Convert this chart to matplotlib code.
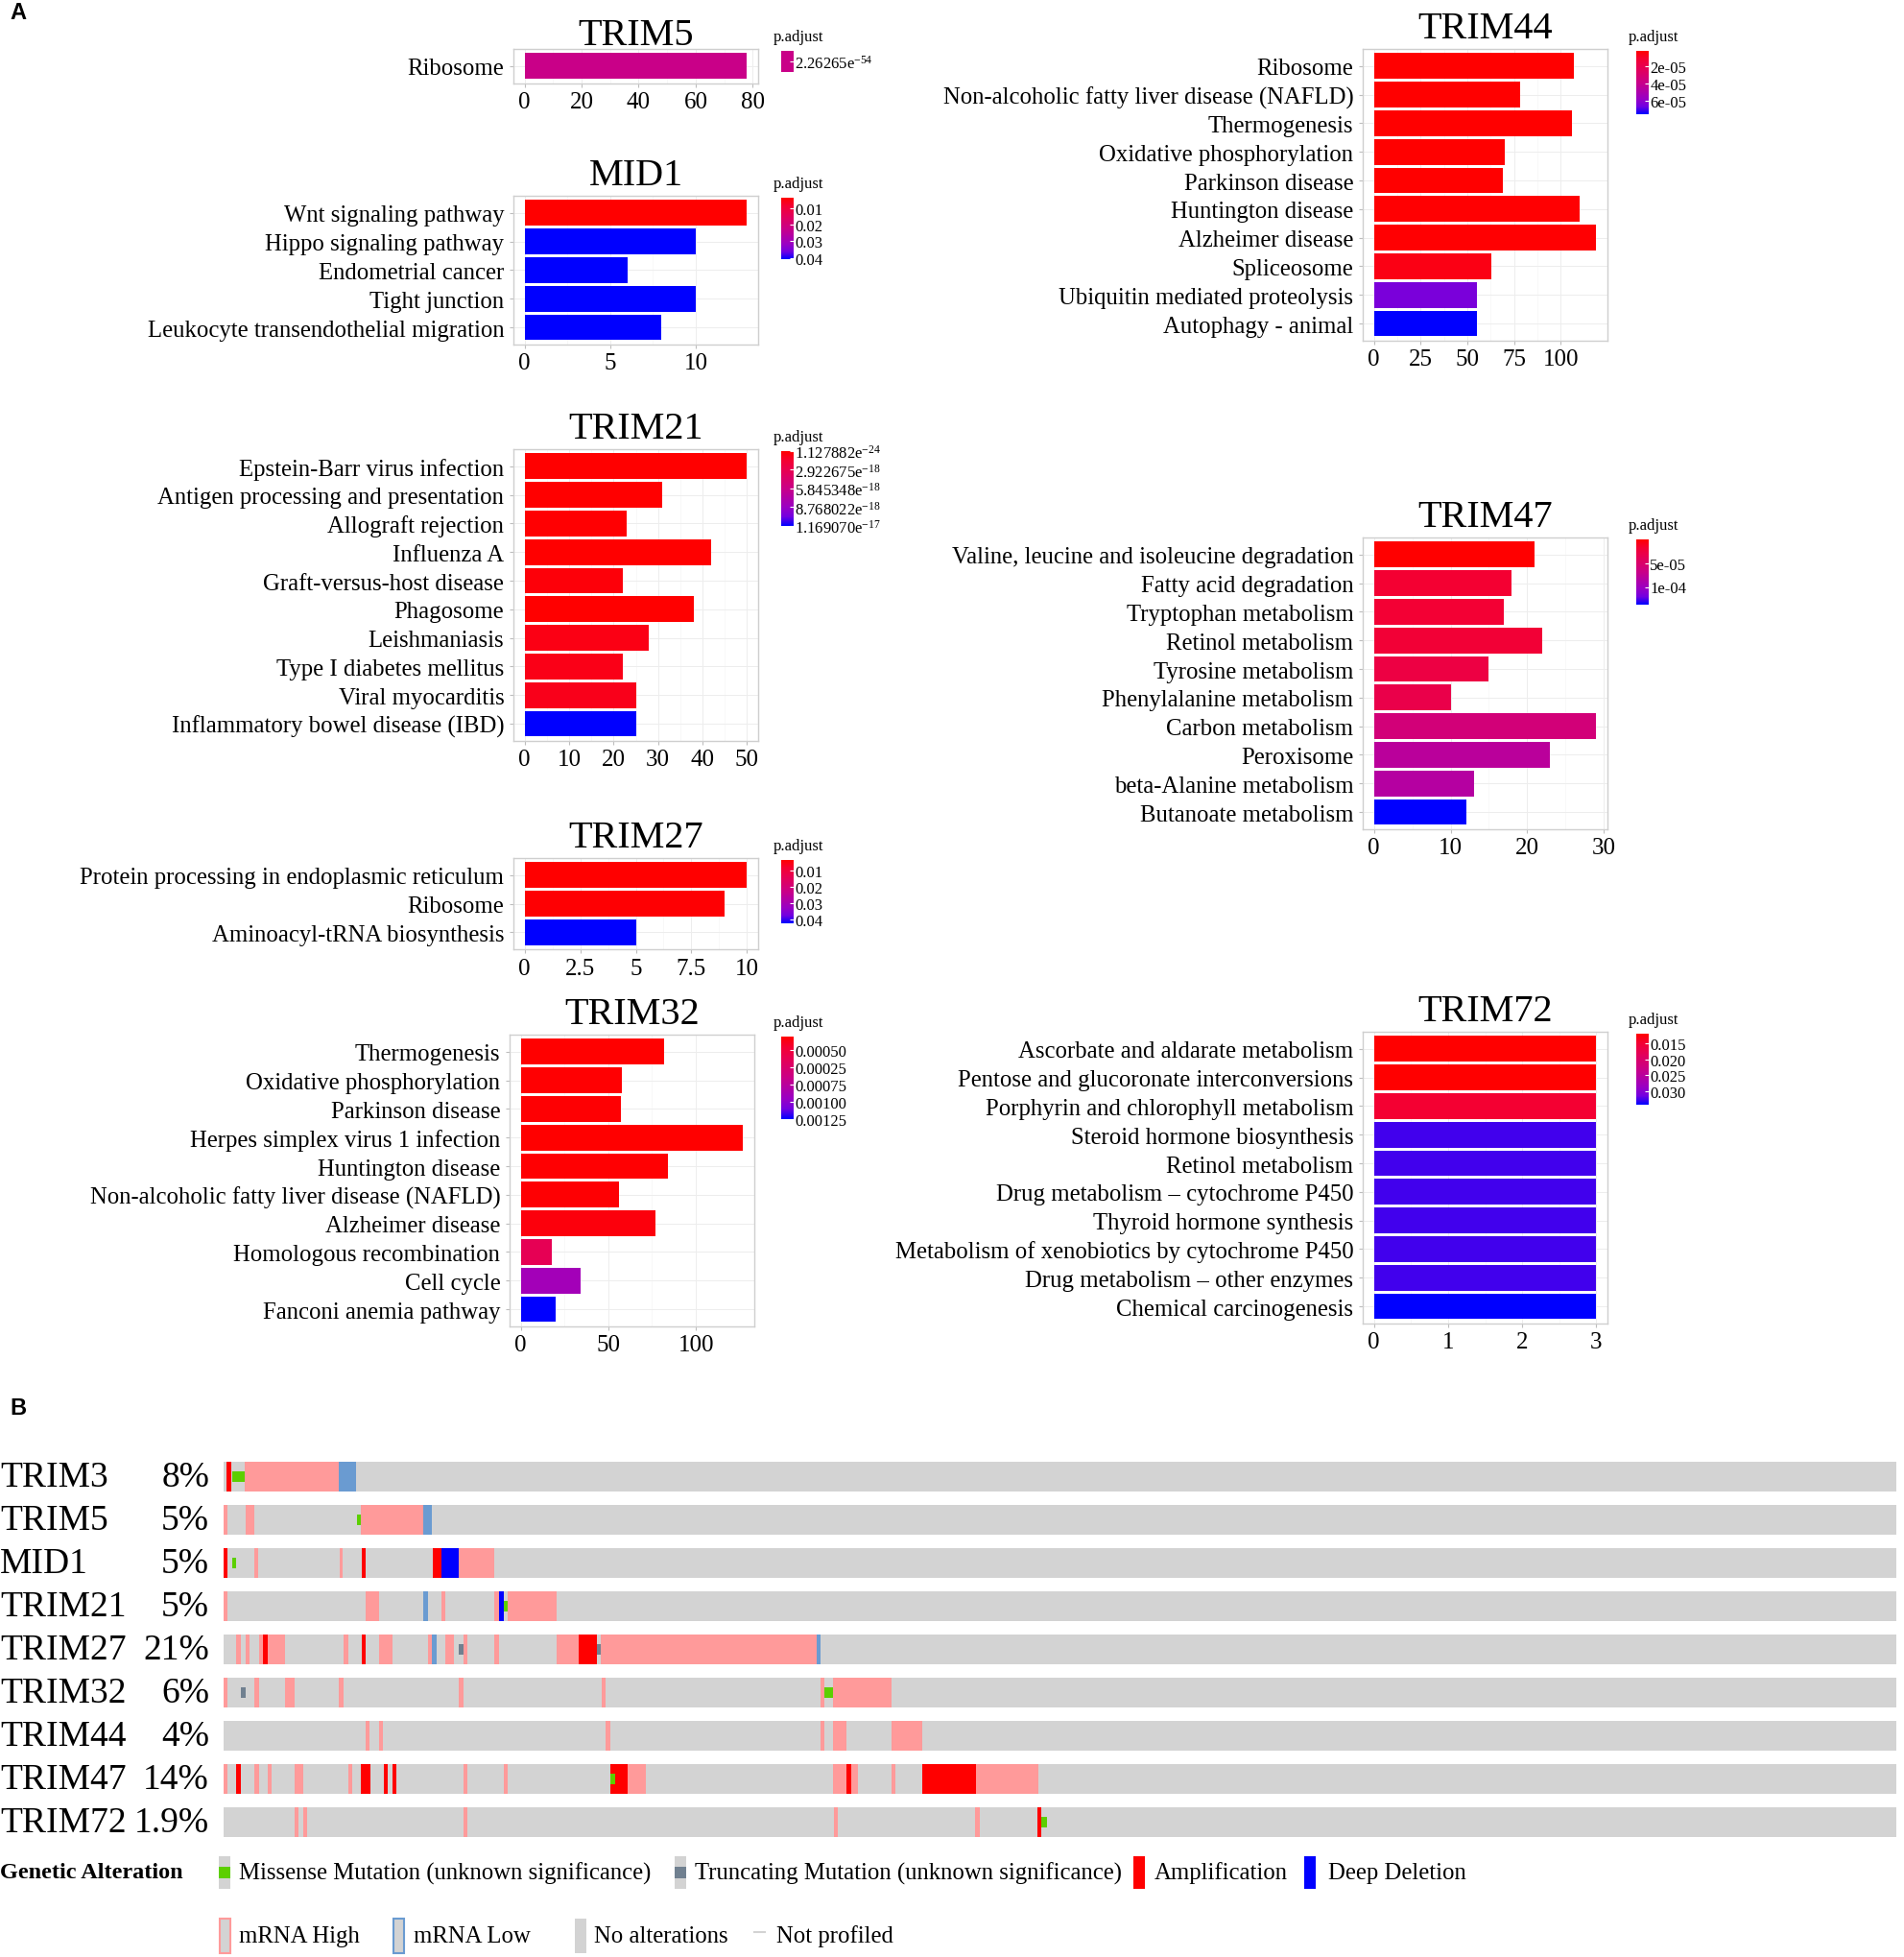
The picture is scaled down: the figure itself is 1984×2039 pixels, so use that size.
import numpy as np
import matplotlib
matplotlib.use('Agg')
import matplotlib.pyplot as plt
from matplotlib.colors import LinearSegmentedColormap, ListedColormap, Normalize
from matplotlib.cm import ScalarMappable
from matplotlib.patches import Rectangle
import matplotlib.transforms as mtransforms

plt.rcParams['font.family'] = ['Liberation Serif', 'DejaVu Serif']
plt.rcParams['mathtext.fontset'] = 'custom'
plt.rcParams['mathtext.rm'] = 'Liberation Serif'
plt.rcParams['mathtext.it'] = 'Liberation Serif:italic'
plt.rcParams['mathtext.bf'] = 'Liberation Serif:bold'

# ---------------- panel A: KEGG enrichment ----------------
trim5_terms = ['Ribosome']
trim5_counts = [78]
trim5_padj = [2.26265e-54]

mid1_terms = ['Wnt signaling pathway', 'Hippo signaling pathway', 'Endometrial cancer',
              'Tight junction', 'Leukocyte transendothelial migration']
mid1_counts = [13, 10, 6, 10, 8]
mid1_padj = [0.0038, 0.0408, 0.0408, 0.0408, 0.0408]

trim21_terms = ['Epstein-Barr virus infection', 'Antigen processing and presentation',
                'Allograft rejection', 'Influenza A', 'Graft-versus-host disease', 'Phagosome',
                'Leishmaniasis', 'Type I diabetes mellitus', 'Viral myocarditis',
                'Inflammatory bowel disease (IBD)']
trim21_counts = [50, 31, 23, 42, 22, 38, 28, 22, 25, 25]
trim21_padj = [1.127882e-24, 2e-21, 5e-20, 1e-22, 3e-19, 2e-20, 6e-19, 7e-19, 8e-19, 1.169070e-17]

trim27_terms = ['Protein processing in endoplasmic reticulum', 'Ribosome',
                'Aminoacyl-tRNA biosynthesis']
trim27_counts = [10, 9, 5]
trim27_padj = [0.0038, 0.0042, 0.0423]

trim32_terms = ['Thermogenesis', 'Oxidative phosphorylation', 'Parkinson disease',
                'Herpes simplex virus 1 infection', 'Huntington disease',
                'Non-alcoholic fatty liver disease (NAFLD)', 'Alzheimer disease',
                'Homologous recombination', 'Cell cycle', 'Fanconi anemia pathway']
trim32_counts = [82, 58, 57, 127, 84, 56, 77, 18, 34, 20]
trim32_padj = [5e-05, 5.5e-05, 6e-05, 5e-05, 5.5e-05, 6e-05, 9e-05, 3.7e-04, 8.9e-04, 1.25e-03]

trim44_terms = ['Ribosome', 'Non-alcoholic fatty liver disease (NAFLD)', 'Thermogenesis',
                'Oxidative phosphorylation', 'Parkinson disease', 'Huntington disease',
                'Alzheimer disease', 'Spliceosome', 'Ubiquitin mediated proteolysis',
                'Autophagy - animal']
trim44_counts = [107, 78, 106, 70, 69, 110, 119, 63, 55, 55]
trim44_padj = [2.2e-06, 2.2e-06, 2.3e-06, 2.4e-06, 2.4e-06, 2.5e-06, 2.5e-06, 6e-06, 6.5e-05, 7.6e-05]

trim47_terms = ['Valine, leucine and isoleucine degradation', 'Fatty acid degradation',
                'Tryptophan metabolism', 'Retinol metabolism', 'Tyrosine metabolism',
                'Phenylalanine metabolism', 'Carbon metabolism', 'Peroxisome',
                'beta-Alanine metabolism', 'Butanoate metabolism']
trim47_counts = [21, 18, 17, 22, 15, 10, 29, 23, 13, 12]
trim47_padj = [1e-06, 1.9e-05, 2.0e-05, 2.1e-05, 2.8e-05, 3.2e-05, 5.9e-05, 8.0e-05, 8.3e-05, 1.37e-04]

trim72_terms = ['Ascorbate and aldarate metabolism', 'Pentose and glucoronate interconversions',
                'Porphyrin and chlorophyll metabolism', 'Steroid hormone biosynthesis',
                'Retinol metabolism', 'Drug metabolism \u2013 cytochrome P450',
                'Thyroid hormone synthesis', 'Metabolism of xenobiotics by cytochrome P450',
                'Drug metabolism \u2013 other enzymes', 'Chemical carcinogenesis']
trim72_counts = [3, 3, 3, 3, 3, 3, 3, 3, 3, 3]
trim72_padj = [0.0119, 0.0119, 0.0148, 0.0326, 0.0326, 0.0326, 0.0326, 0.0326, 0.0326, 0.0342]

# x axis ticks and colour bar ticks for each panel
trim5_xticks = [0, 20, 40, 60, 80]
mid1_xticks = [0, 5, 10]
trim21_xticks = [0, 10, 20, 30, 40, 50]
trim27_xticks = [0, 2.5, 5, 7.5, 10]
trim32_xticks = [0, 50, 100]
trim44_xticks = [0, 25, 50, 75, 100]
trim47_xticks = [0, 10, 20, 30]
trim72_xticks = [0, 1, 2, 3]

trim5_cb_ticks = [2.26265e-54]
trim5_cb_labels = [r'2.26265e$^{-54}$']
mid1_cb_ticks = [0.01, 0.02, 0.03, 0.04]
mid1_cb_labels = ['0.01', '0.02', '0.03', '0.04']
trim21_cb_ticks = [1.127882e-24, 2.922675e-18, 5.845348e-18, 8.768022e-18, 1.169070e-17]
trim21_cb_labels = [r'1.127882e$^{-24}$', r'2.922675e$^{-18}$', r'5.845348e$^{-18}$',
                    r'8.768022e$^{-18}$', r'1.169070e$^{-17}$']
trim27_cb_ticks = [0.01, 0.02, 0.03, 0.04]
trim27_cb_labels = ['0.01', '0.02', '0.03', '0.04']
trim32_cb_ticks = [0.00025, 0.0005, 0.00075, 0.001, 0.00125]
trim32_cb_labels = ['0.00050', '0.00025', '0.00075', '0.00100', '0.00125']
trim44_cb_ticks = [2e-05, 4e-05, 6e-05]
trim44_cb_labels = ['2e-05', '4e-05', '6e-05']
trim47_cb_ticks = [5e-05, 1e-04]
trim47_cb_labels = ['5e-05', '1e-04']
trim72_cb_ticks = [0.015, 0.020, 0.025, 0.030]
trim72_cb_labels = ['0.015', '0.020', '0.025', '0.030']

# ---------------- panel B: oncoprint ----------------
onco_genes = ['TRIM3', 'TRIM5', 'MID1', 'TRIM21', 'TRIM27', 'TRIM32', 'TRIM44', 'TRIM47', 'TRIM72']
onco_pct = ['8%', '5%', '5%', '5%', '21%', '6%', '4%', '14%', '1.9%']
n_columns = 1743

# altered columns as (first, last) ranges
mrna_high = {
    'TRIM3': [(22, 120)],
    'TRIM5': [(0, 4), (23, 32), (143, 208)],
    'MID1': [(32, 36), (121, 124), (245, 282)],
    'TRIM21': [(0, 4), (148, 162), (227, 231), (282, 287), (296, 347)],
    'TRIM27': [(13, 18), (23, 27), (37, 64), (125, 130), (162, 176), (213, 217), (231, 240),
               (250, 254), (282, 287), (347, 370), (393, 618)],
    'TRIM32': [(0, 4), (32, 37), (64, 74), (120, 125), (245, 250), (394, 398), (622, 626), (635, 696)],
    'TRIM44': [(148, 152), (162, 166), (398, 403), (622, 626), (635, 649), (696, 728)],
    'TRIM47': [(0, 4), (32, 37), (46, 50), (74, 83), (130, 134), (250, 254), (292, 296), (421, 440),
               (635, 661), (696, 700), (784, 849)],
    'TRIM72': [(74, 78), (83, 87), (250, 254), (636, 640), (783, 788)],
}
mrna_low = {
    'TRIM3': [(120, 138)],
    'TRIM5': [(208, 217)],
    'TRIM21': [(208, 213)],
    'TRIM27': [(217, 222), (618, 622)],
}
amplification = {
    'TRIM3': [(3, 8)],
    'MID1': [(0, 4), (144, 148), (218, 227)],
    'TRIM27': [(41, 46), (144, 148), (370, 389)],
    'TRIM47': [(13, 18), (143, 153), (167, 171), (176, 180), (403, 421), (649, 654), (728, 784)],
    'TRIM72': [(848, 852)],
}
deep_deletion = {
    'MID1': [(227, 245)],
    'TRIM21': [(287, 292)],
}
missense = {
    'TRIM3': [(9, 22)],
    'TRIM5': [(139, 143)],
    'MID1': [(9, 13)],
    'TRIM21': [(292, 296)],
    'TRIM32': [(626, 635)],
    'TRIM47': [(403, 408)],
    'TRIM72': [(852, 858)],
}
truncating = {
    'TRIM27': [(245, 250), (389, 393)],
    'TRIM32': [(18, 23)],
}

legend_row1 = ['Missense Mutation (unknown significance)', 'Truncating Mutation (unknown significance)',
               'Amplification', 'Deep Deletion']
legend_row2 = ['mRNA High', 'mRNA Low', 'No alterations', 'Not profiled']

# ---------------- styles ----------------
W, H = 1984, 2040
enrich_cmap = LinearSegmentedColormap.from_list(
    'padj', [(0.0, '#FF0000'), (0.125, '#F40031'), (0.25, '#E80050'), (0.5, '#C90088'),
             (0.75, '#9A00C3'), (0.875, '#7300E0'), (1.0, '#0000FF')])
c_gray = '#D3D3D3'
c_high = '#FF9A9A'
c_low = '#6A9BD1'
c_amp = '#FF0000'
c_del = '#0000FF'
c_mis = '#5CCF00'
c_trunc = '#708090'

label_fs = 17.8
tick_fs = 18
title_fs = 29
cb_fs = 12

fig = plt.figure(figsize=(W / 100, H / 100), dpi=100)


def px_box(left, top, width, height):
    return [left / W, 1 - (top + height) / H, width / W, height / H]


unit_px = 29.8


def enrich_panel(left, top, terms, counts, padj, xticks, cb_ticks, cb_labels, title,
                 cb_left, cb_height, title_gap=12, xticklabels=None):
    n = len(terms)
    height = (n + 0.2) * unit_px
    ax = fig.add_axes(px_box(left, top, 255, height))
    vmin, vmax = min(padj), max(padj)
    if vmin == vmax:
        cmap = ListedColormap([enrich_cmap(0.5)])
        norm = Normalize(vmin * 0.5, vmax * 1.5)
    else:
        cmap = enrich_cmap
        norm = Normalize(vmin, vmax)
    y = np.arange(n)
    ax.barh(y, counts, height=0.9, color=cmap(norm(np.array(padj))), edgecolor='none', zorder=2)
    top_val = max(counts)
    ax.set_xlim(-0.05 * top_val, 1.05 * top_val)
    ax.set_ylim(n - 0.4, -0.6)
    ax.set_yticks(y, terms)
    ax.set_xticks(xticks, xticklabels if xticklabels else [f'{t:g}' for t in xticks])
    mids = [(a + b) / 2 for a, b in zip(xticks[:-1], xticks[1:])]
    ax.set_xticks(mids, minor=True)
    ax.tick_params(axis='x', which='minor', length=0)
    ax.grid(True, which='major', color='#EDEDED', lw=0.7, zorder=0)
    ax.grid(True, which='minor', axis='x', color='#F5F5F5', lw=0.5, zorder=0)
    ax.set_axisbelow(True)
    for s in ax.spines.values():
        s.set_color('#CFCFCF')
        s.set_linewidth(1.0)
    ax.tick_params(axis='both', which='major', length=3, color='#BDBDBD', width=0.8)
    ax.tick_params(axis='y', labelsize=label_fs, pad=4)
    ax.tick_params(axis='x', labelsize=tick_fs, pad=3)
    ax.annotate(title, xy=(0.5, 1), xycoords='axes fraction', xytext=(0, title_gap),
                textcoords='offset pixels', ha='center', va='baseline', fontsize=title_fs)

    cax = fig.add_axes(px_box(cb_left, top + 2, 13, cb_height))
    cb = fig.colorbar(ScalarMappable(norm=norm, cmap=cmap), cax=cax)
    cax.invert_yaxis()
    cb.set_ticks(cb_ticks, labels=cb_labels)
    cb.outline.set_visible(False)
    cax.tick_params(length=3, color='white', width=0.8, direction='in', labelsize=cb_fs, pad=1)
    cax.annotate('p.adjust', xy=(0, 1), xycoords='axes fraction', xytext=(-8, 7),
                 textcoords='offset pixels', ha='left', va='bottom', fontsize=cb_fs)
    return ax


left_col, right_col = 535, 1420
cb_left_col, cb_right_col = 814, 1705

enrich_panel(left_col, 52, trim5_terms, trim5_counts, trim5_padj, trim5_xticks,
             trim5_cb_ticks, trim5_cb_labels, 'TRIM5', cb_left_col, 22, title_gap=5)
enrich_panel(left_col, 205, mid1_terms, mid1_counts, mid1_padj, mid1_xticks,
             mid1_cb_ticks, mid1_cb_labels, 'MID1', cb_left_col, 64)
enrich_panel(left_col, 469, trim21_terms, trim21_counts, trim21_padj, trim21_xticks,
             trim21_cb_ticks, trim21_cb_labels, 'TRIM21', cb_left_col, 78)
enrich_panel(left_col, 895, trim27_terms, trim27_counts, trim27_padj, trim27_xticks,
             trim27_cb_ticks, trim27_cb_labels, 'TRIM27', cb_left_col, 66)
enrich_panel(531, 1079, trim32_terms, trim32_counts, trim32_padj, trim32_xticks,
             trim32_cb_ticks, trim32_cb_labels, 'TRIM32', cb_left_col, 86)
enrich_panel(right_col, 52, trim44_terms, trim44_counts, trim44_padj, trim44_xticks,
             trim44_cb_ticks, trim44_cb_labels, 'TRIM44', cb_right_col, 66)
enrich_panel(right_col, 561, trim47_terms, trim47_counts, trim47_padj, trim47_xticks,
             trim47_cb_ticks, trim47_cb_labels, 'TRIM47', cb_right_col, 68)
enrich_panel(right_col, 1076, trim72_terms, trim72_counts, trim72_padj, trim72_xticks,
             trim72_cb_ticks, trim72_cb_labels, 'TRIM72', cb_right_col, 74)

# ---------------- oncoprint ----------------
ax = fig.add_axes(px_box(233, 1517, 1743, 405))
rows = np.arange(len(onco_genes))
row_h = 0.69
ax.barh(rows, [n_columns] * len(rows), height=row_h, color=c_gray, edgecolor='none')


def draw_ranges(table, color, h):
    for i, g in enumerate(onco_genes):
        for a, b in table.get(g, []):
            ax.barh(i, b - a, left=a, height=h, color=color, edgecolor='none', zorder=2)


draw_ranges(mrna_high, c_high, row_h)
draw_ranges(mrna_low, c_low, row_h)
draw_ranges(amplification, c_amp, row_h)
draw_ranges(deep_deletion, c_del, row_h)
draw_ranges(missense, c_mis, 0.25)
draw_ranges(truncating, c_trunc, 0.25)
ax.set_xlim(0, n_columns)
ax.set_ylim(len(rows) - 0.5, -0.5)
ax.axis('off')
trans = mtransforms.blended_transform_factory(fig.transFigure, ax.transData)
for i, (g, p) in enumerate(zip(onco_genes, onco_pct)):
    ax.text(0 / W, i, g, transform=trans, ha='left', va='center', fontsize=27)
    ax.text(218 / W, i, p, transform=trans, ha='right', va='center', fontsize=27)

# ---------------- legend and panel letters (pixel overlay) ----------------
ov = fig.add_axes([0, 0, 1, 1])
ov.set_xlim(0, W)
ov.set_ylim(H, 0)
ov.axis('off')
ov.text(10, 14, 'A', fontsize=17, fontweight='bold', family='Liberation Sans', va='center')
ov.text(10, 1468, 'B', fontsize=17, fontweight='bold', family='Liberation Sans', va='center')
ov.text(0, 1952, 'Genetic Alteration', fontsize=17.5, fontweight='bold', va='center')

leg_fs = 17.8
y1, y2 = 1952, 2018
icon_x1 = [228, 703, 1181, 1359]
text_x1 = [249, 724, 1203, 1384]
ov.add_patch(Rectangle((icon_x1[0], y1 - 17), 12, 34, color=c_gray, lw=0))
ov.add_patch(Rectangle((icon_x1[0], y1 - 6), 12, 12, color=c_mis, lw=0))
ov.add_patch(Rectangle((icon_x1[1], y1 - 17), 12, 34, color=c_gray, lw=0))
ov.add_patch(Rectangle((icon_x1[1], y1 - 6), 12, 12, color=c_trunc, lw=0))
ov.add_patch(Rectangle((icon_x1[2], y1 - 17), 12, 34, color=c_amp, lw=0))
ov.add_patch(Rectangle((icon_x1[3], y1 - 17), 12, 34, color=c_del, lw=0))
for x, t in zip(text_x1, legend_row1):
    ov.text(x, y1, t, fontsize=leg_fs, va='center')

icon_x2 = [229, 410, 599]
text_x2 = [249, 431, 619, 809]
ov.add_patch(Rectangle((icon_x2[0], y2 - 18), 11, 36, facecolor=c_gray, edgecolor=c_high, lw=1.5))
ov.add_patch(Rectangle((icon_x2[1], y2 - 18), 11, 36, facecolor=c_gray, edgecolor=c_low, lw=1.5))
ov.add_patch(Rectangle((icon_x2[2], y2 - 18), 12, 36, facecolor=c_gray, edgecolor='none', lw=0))
ov.plot([786, 797], [y2 - 4, y2 - 4], color=c_gray, lw=1.5)
for x, t in zip(text_x2, legend_row2):
    ov.text(x, y2, t, fontsize=leg_fs, va='center')

fig.savefig('out.png', dpi=100)
